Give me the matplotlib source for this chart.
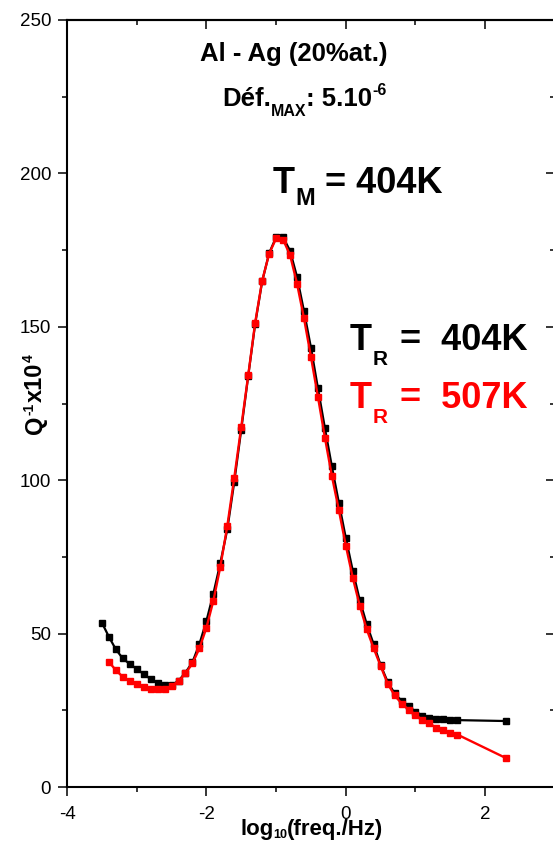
import matplotlib
matplotlib.use("Agg")
import matplotlib.pyplot as plt
from matplotlib.ticker import MultipleLocator

plt.rcParams.update({
    "font.family": ["Liberation Sans", "DejaVu Sans"],
    "axes.unicode_minus": False,
})

# ---------------- data ----------------
x_black = [-3.5, -3.4, -3.3, -3.2, -3.1, -3.0, -2.9, -2.8, -2.7, -2.6,
           -2.5, -2.4, -2.3, -2.2, -2.1, -2.0, -1.9, -1.8, -1.7, -1.6,
           -1.5, -1.4, -1.3, -1.2, -1.1, -1.0, -0.9, -0.8, -0.7, -0.6,
           -0.5, -0.4, -0.3, -0.2, -0.1, 0.0, 0.1, 0.2, 0.3, 0.4,
           0.5, 0.6, 0.7, 0.8, 0.9, 1.0, 1.1, 1.2, 1.3, 1.4,
           1.5, 1.6, 2.3]
q_black = [53.6, 49.0, 44.9, 41.9, 40.1, 38.5, 36.8, 35.2, 33.9, 33.4,
           33.1, 34.6, 37.3, 40.7, 46.6, 54.1, 63.0, 73.0, 84.0, 99.5,
           116.5, 134.0, 151.0, 164.8, 174.0, 179.2, 179.2, 174.8, 166.3, 155.1,
           143.2, 130.0, 117.0, 104.5, 92.7, 81.2, 70.5, 60.9, 53.1, 46.5,
           39.7, 34.3, 30.5, 28.1, 26.4, 24.5, 23.3, 22.5, 22.3, 22.1,
           22.0, 21.8, 21.5]

x_red = [-3.4, -3.3, -3.2, -3.1, -3.0, -2.9, -2.8, -2.7, -2.6,
         -2.5, -2.4, -2.3, -2.2, -2.1, -2.0, -1.9, -1.8, -1.7, -1.6,
         -1.5, -1.4, -1.3, -1.2, -1.1, -1.0, -0.9, -0.8, -0.7, -0.6,
         -0.5, -0.4, -0.3, -0.2, -0.1, 0.0, 0.1, 0.2, 0.3, 0.4,
         0.5, 0.6, 0.7, 0.8, 0.9, 1.0, 1.1, 1.2, 1.3, 1.4,
         1.5, 1.6, 2.3]
q_red = [40.8, 38.1, 35.9, 34.6, 33.7, 32.6, 32.1, 31.9, 32.0,
         32.9, 34.5, 37.0, 40.3, 45.2, 51.9, 60.7, 71.8, 85.1, 100.8,
         117.4, 134.2, 151.4, 165.0, 173.8, 178.8, 178.4, 173.4, 164.1, 152.8,
         140.2, 127.2, 113.9, 101.4, 90.3, 78.7, 68.2, 59.1, 51.4, 45.2,
         39.4, 33.7, 29.9, 27.2, 25.2, 23.6, 21.7, 20.7, 19.3, 18.5,
         17.6, 17.1, 9.4]

x_major = [-4, -2, 0, 2]
y_major = [0, 50, 100, 150, 200, 250]

title_text = "Al - Ag (20%at.)"

# ---------------- figure ----------------
W, H = 553, 841
fig = plt.figure(figsize=(W / 100, H / 100), dpi=100)
ax = fig.add_axes([67 / W, (H - 787) / H, 487.9 / W, 767 / H])

ax.plot(x_black, q_black, color="black", lw=1.6, marker="s", ms=3.8,
        mec="black", mfc="black", zorder=3)
ax.plot(x_red, q_red, color="red", lw=1.7, marker="s", ms=3.8,
        mec="red", mfc="red", zorder=4)

ax.set_xlim(-4, 3)
ax.set_ylim(0, 250)
ax.set_xticks(x_major)
ax.set_yticks(y_major)
ax.xaxis.set_minor_locator(MultipleLocator(1))
ax.yaxis.set_minor_locator(MultipleLocator(25))
ax.tick_params(which="both", direction="out", labelsize=13.5, width=1.1,
               top=False, right=False)
ax.tick_params(which="major", length=6.5)
ax.tick_params(which="minor", length=3.6)
ax.tick_params(axis="x", pad=7)
ax.tick_params(axis="y", pad=5)
for s in ax.spines.values():
    s.set_linewidth(1.5)

top = ax.secondary_xaxis("top")
top.set_xticks(x_major)
top.xaxis.set_minor_locator(MultipleLocator(1))
top.tick_params(which="both", direction="in", labeltop=False, width=1.1)
top.tick_params(which="major", length=6.5)
top.tick_params(which="minor", length=3.6)
top.spines["top"].set_linewidth(1.5)

right = ax.secondary_yaxis("right")
right.set_yticks(y_major)
right.yaxis.set_minor_locator(MultipleLocator(25))
right.tick_params(which="both", direction="in", labelright=False, width=1.1)
right.tick_params(which="major", length=6.5)
right.tick_params(which="minor", length=3.6)
right.spines["right"].set_linewidth(1.5)


def ftext(px, py, s, size, color="black", **kw):
    kw.setdefault("ha", "left")
    kw.setdefault("va", "baseline")
    return fig.text(px / W, 1 - py / H, s, fontsize=size, fontweight="bold",
                    color=color, **kw)


# title lines
ftext(294, 61, title_text, 18.5, ha="center")
ftext(222, 106, "Déf.", 18.5)
ftext(271, 116.5, "MAX", 11.5)
ftext(306, 106, ": 5.10", 18.5)
ftext(372, 95, "-6", 11.5)

# T_M
ftext(273, 193, "T", 26)
ftext(295, 205, "M", 17)
ftext(325, 193, "= 404K", 26)

# T_R (black)
ftext(350, 350, "T", 26)
ftext(373, 365, "R", 15)
ftext(400, 350, "=  404K", 26)

# T_R (red)
ftext(350, 408, "T", 26, color="red")
ftext(373, 423, "R", 15, color="red")
ftext(400, 408, "=  507K", 26, color="red")

# x label
ftext(240, 835, "log", 16)
ftext(273.5, 838, "10", 9)
ftext(287, 835, "(freq./Hz)", 16)

# y label (rotated, built bottom-to-top)
renderer = fig.canvas.get_renderer()
ybase_x = 42
ypos = 434
for piece, size, shift in [("Q", 17, 0), ("-1", 10, -9), ("x10", 17, 0), ("4", 10, -9)]:
    t = fig.text((ybase_x + shift) / W, 1 - ypos / H, piece, fontsize=size,
                 fontweight="bold", rotation=90, rotation_mode="anchor",
                 ha="left", va="baseline")
    bb = t.get_window_extent(renderer)
    ypos -= bb.height + 0.5

fig.savefig("out.png", dpi=100)
